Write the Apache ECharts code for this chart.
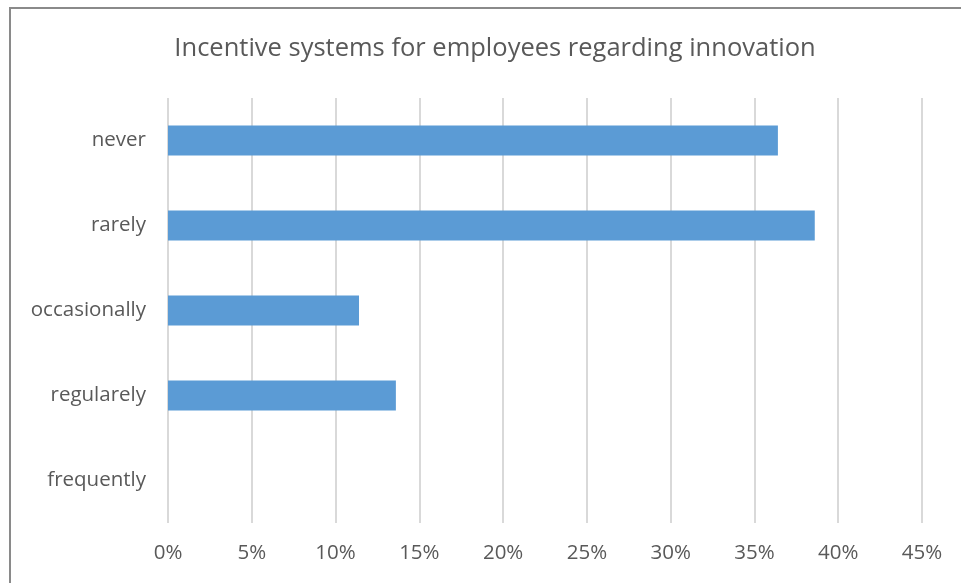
<!DOCTYPE html>
<html>
<head>
<meta charset="utf-8">
<script src="https://cdn.jsdelivr.net/npm/echarts@6/dist/echarts.min.js"></script>
<style>
    html, body { margin: 0; padding: 0; background: #fff; }
    /* 外框 */
    .frame {
        position: absolute;
        left: 9px;
        top: 7px;
        width: 1000px;
        height: 700px;
        border: 2px solid #8a8a8a;
    }
    #chart { position: absolute; left: 0; top: 0; width: 961px; height: 583px; }
</style>
</head>
<body>
<div class="frame"></div>
<div id="chart"></div>
<script>
// categories top to bottom
const categories = ['never', 'rarely', 'occasionally', 'regularely', 'frequently']
const shares = [36.4, 38.6, 11.4, 13.6, 0]
const tickValues = [0, 5, 10, 15, 20, 25, 30, 35, 40, 45]

const chart = echarts.init(document.getElementById('chart'))
chart.setOption({
    animation: false,
    title: {
        text: 'Incentive systems for employees regarding innovation',
        left: 490,
        top: 31,
        textAlign: 'center',
        textStyle: {
            color: '#595959',
            fontSize: 25.5,
            fontWeight: 'normal',
            fontFamily: 'Open Sans'
        }
    },
    grid: { left: 168, right: 39, top: 98, bottom: 60 },
    xAxis: {
        type: 'value',
        min: tickValues[0],
        max: tickValues[tickValues.length - 1],
        interval: 5,
        axisLine: { show: false },
        axisTick: { show: false },
        axisLabel: {
            formatter: '{value}%',
            color: '#595959',
            fontSize: 20.5,
            fontFamily: 'Open Sans',
            margin: 20
        },
        splitLine: { lineStyle: { color: '#d9d9d9', width: 2 } }
    },
    yAxis: {
        type: 'category',
        inverse: true,
        data: categories,
        axisLine: { show: false },
        axisTick: { show: false },
        axisLabel: {
            color: '#595959',
            fontSize: 20.5,
            fontFamily: 'Open Sans',
            margin: 22
        }
    },
    series: [{
        type: 'bar',
        data: shares,
        barWidth: 30,
        itemStyle: { color: '#5b9bd5' }
    }]
})
</script>
</body>
</html>
